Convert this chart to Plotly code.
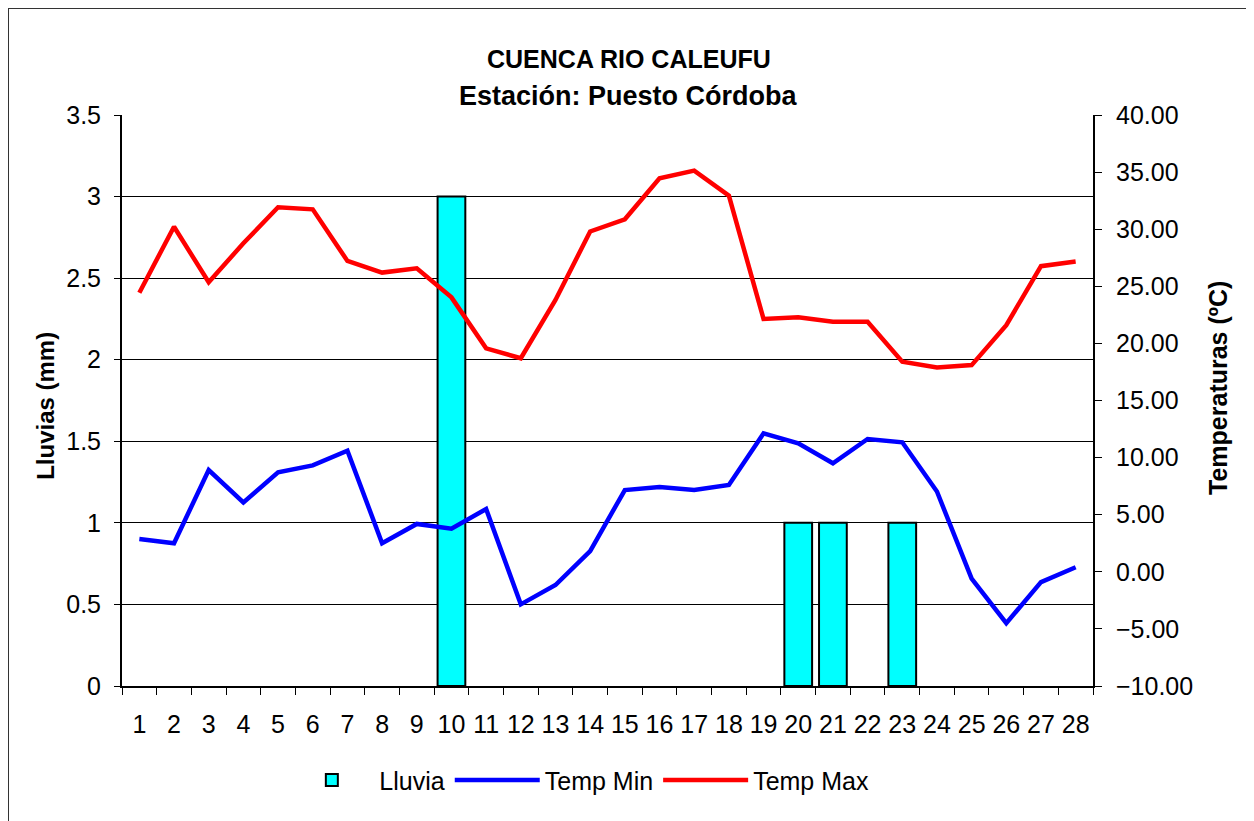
import plotly.graph_objects as go

days = [str(d) for d in range(1, 29)]
lluvia = [0, 0, 0, 0, 0, 0, 0, 0, 0, 3, 0, 0, 0, 0, 0, 0, 0, 0, 0, 1, 1, 0, 1, 0, 0, 0, 0, 0]
temp_min = [2.87, 2.5, 8.91, 6.08, 8.71, 9.32, 10.61, 2.5, 4.19, 3.78, 5.5, -2.85, -1.16, 1.82,
            7.16, 7.43, 7.16, 7.6, 12.13, 11.25, 9.5, 11.63, 11.34, 7.03, -0.6, -4.5, -0.9, 0.4]
temp_max = [24.44, 30.22, 25.35, 28.77, 31.92, 31.74, 27.22, 26.2, 26.57, 24.03, 19.57, 18.7, 23.8, 29.8,
            30.87, 34.45, 35.13, 32.94, 22.14, 22.28, 21.9, 21.9, 18.4, 17.9, 18.1, 21.6, 26.76, 27.17]

FONT = "Liberation Sans, Arial, sans-serif"

# days without rain get no bar (avoids a flat outlined bar on the axis)
lluvia_bars = [v if v > 0 else None for v in lluvia]

fig = go.Figure()
fig.add_trace(go.Bar(x=days, y=lluvia_bars, name="Lluvia", width=0.8,
                     marker=dict(color="#00FFFF", line=dict(color="black", width=2)),
                     yaxis="y"))
fig.add_trace(go.Scatter(x=days, y=temp_min, name="Temp Min", mode="lines",
                         line=dict(color="#0000FF", width=4.5), yaxis="y2"))
fig.add_trace(go.Scatter(x=days, y=temp_max, name="Temp Max", mode="lines",
                         line=dict(color="#FF0000", width=4.5), yaxis="y2"))

fig.update_layout(
    width=1254, height=821,
    margin=dict(l=114, r=169, t=107, b=143),
    paper_bgcolor="white", plot_bgcolor="white",
    font=dict(family=FONT, size=25, color="black"),
    showlegend=True,
    legend=dict(orientation="h", x=0.471, xanchor="center", y=-0.165, yanchor="middle",
                font=dict(size=25), itemwidth=85, tracegroupgap=0, bgcolor="rgba(0,0,0,0)"),
    xaxis=dict(type="category", range=[-0.5, 27.5], showgrid=False, showline=True,
               linecolor="black", linewidth=2, ticks="outside", tickson="boundaries",
               ticklen=7, tickcolor="black", tickwidth=1, tickfont=dict(size=25),
               tickangle=0, ticklabelstandoff=15),
    yaxis=dict(range=[0, 3.5], dtick=0.5, showgrid=True, gridcolor="black", gridwidth=1,
               showline=True, linecolor="black", linewidth=2, ticks="outside", ticklen=6,
               tickcolor="black", tickfont=dict(size=25), zeroline=False, ticklabelstandoff=8),
    yaxis2=dict(range=[-10, 40], dtick=5, overlaying="y", side="right", showgrid=False,
                showline=True, linecolor="black", linewidth=2, ticks="outside", ticklen=7,
                tickcolor="black", tickformat=".2f", tickfont=dict(size=25), zeroline=False,
                ticklabelstandoff=9),
    bargap=0.2,
)

annotations = [
    dict(text="<b>CUENCA RIO CALEUFU</b>", x=0.5221, y=1.098, xref="paper", yref="paper",
         xanchor="center", yanchor="middle", showarrow=False, font=dict(size=25)),
    dict(text="<b>Estación: Puesto Córdoba</b>", x=0.5221, y=1.0325, xref="paper", yref="paper",
         xanchor="center", yanchor="middle", showarrow=False, font=dict(size=27)),
    dict(text="<b>Lluvias (mm)</b>", x=-0.0784, y=0.4904, xref="paper", yref="paper",
         xanchor="center", yanchor="middle", showarrow=False, textangle=-90, font=dict(size=24)),
    dict(text="<b>Temperaturas (ºC)</b>", x=1.1287, y=0.5219, xref="paper", yref="paper",
         xanchor="center", yanchor="middle", showarrow=False, textangle=-90, font=dict(size=25)),
]
fig.update_layout(annotations=annotations)

fig.add_shape(type="rect", xref="paper", yref="paper", x0=-0.1174, x1=1.172, y0=-0.26, y1=1.1874,
              line=dict(color="#333333", width=2), fillcolor="rgba(0,0,0,0)", layer="below")

fig.write_html("out.html")
